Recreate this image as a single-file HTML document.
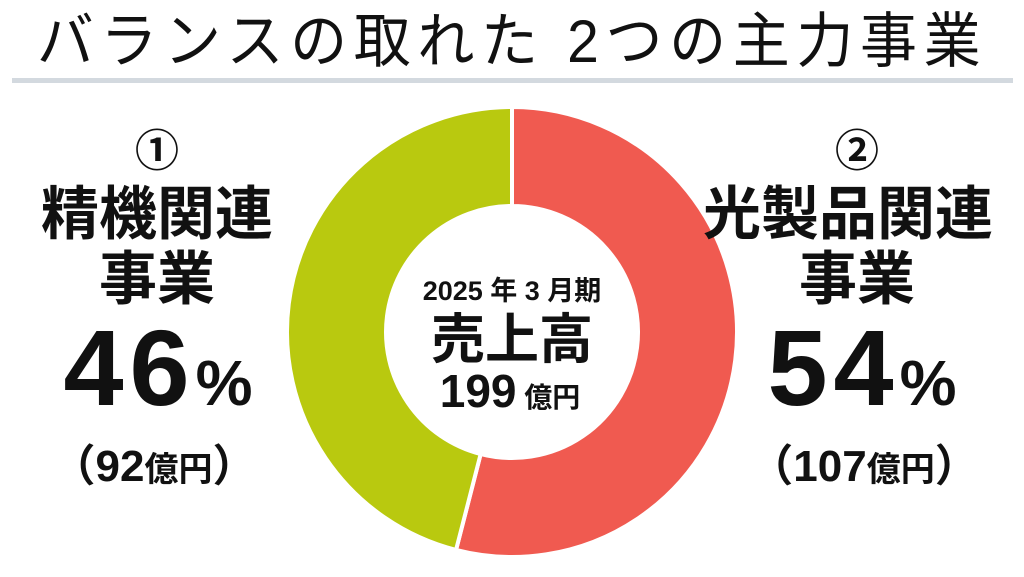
<!DOCTYPE html>
<html><head><meta charset="utf-8"><style>
body{margin:0;width:1024px;height:572px;background:#fff;overflow:hidden;font-family:"Liberation Sans","Noto Sans CJK JP",sans-serif;}
</style></head><body>
<svg width="1024" height="572" viewBox="0 0 1024 572" xmlns="http://www.w3.org/2000/svg" font-family="Liberation Sans, Noto Sans CJK JP, sans-serif">
<text x="512" y="62" font-size="60" letter-spacing="7" text-anchor="middle" fill="#111" transform="translate(512 0) scale(0.95 1) translate(-512 0)">バランスの取れた 2つの主力事業</text>
<rect x="12" y="78" width="1001" height="5" fill="#d3d9df"/>
<g id="donut"></g>
<g text-anchor="middle" font-weight="bold" fill="#111">
<text x="512" y="300" font-size="27">2025 年 3 月期</text>
<text x="512" y="358" font-size="54">売上高</text>
<text x="510" y="407" font-size="46">199<tspan font-size="28"> 億円</tspan></text>
</g>
<g text-anchor="middle" font-weight="bold" fill="#111">
<text x="157" y="166" font-size="44">①</text>
<text x="157" y="234" font-size="58">精機関連</text>
<text x="157" y="299" font-size="58">事業</text>
<text x="158" y="405" font-size="108" letter-spacing="6">46<tspan font-size="64" letter-spacing="0">%</tspan></text>
<text x="154" y="481" font-size="44">（92<tspan font-size="34">億円</tspan>）</text>
</g>
<g text-anchor="middle" font-weight="bold" fill="#111">
<text x="857" y="166" font-size="44">②</text>
<text x="848" y="234" font-size="58">光製品関連</text>
<text x="857" y="299" font-size="58">事業</text>
<text x="862" y="405" font-size="108" letter-spacing="6">54<tspan font-size="64" letter-spacing="0">%</tspan></text>
<text x="864" y="481" font-size="44">（107<tspan font-size="34">億円</tspan>）</text>
</g>
</svg>
<script>
const categories=["光製品関連事業","精機関連事業"];
const values=[54,46];
const colors=["#f05a50","#b9c90f"];
const cx=512,cy=332,R=225,r=126;
const g=document.getElementById('donut');
const total=values.reduce((a,b)=>a+b,0);
let a0=0;
function pt(rad,a){return [cx+rad*Math.sin(a),cy-rad*Math.cos(a)];}
values.forEach((v,i)=>{
  const a1=a0+v/total*2*Math.PI;
  const large=(a1-a0)>Math.PI?1:0;
  const [x1,y1]=pt(R,a0),[x2,y2]=pt(R,a1),[x3,y3]=pt(r,a1),[x4,y4]=pt(r,a0);
  const p=document.createElementNS('http://www.w3.org/2000/svg','path');
  p.setAttribute('d',`M${x1},${y1}A${R},${R} 0 ${large} 1 ${x2},${y2}L${x3},${y3}A${r},${r} 0 ${large} 0 ${x4},${y4}Z`);
  p.setAttribute('fill',colors[i]);
  p.setAttribute('stroke','#fff');
  p.setAttribute('stroke-width','4');
  
  
  g.appendChild(p);
  a0=a1;
});
</script>
</body></html>
